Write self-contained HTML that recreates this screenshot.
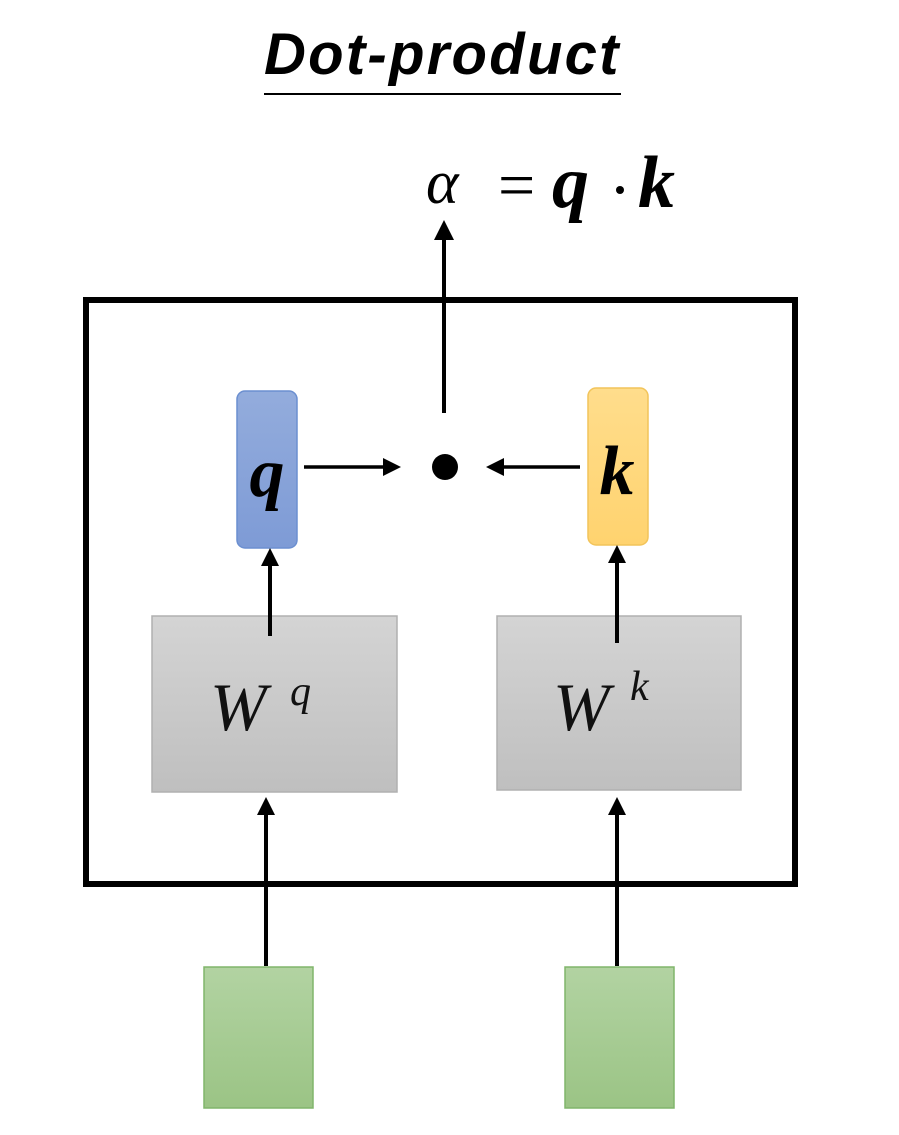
<!DOCTYPE html>
<html><head><meta charset="utf-8"><style>
html,body{margin:0;padding:0;background:#fff;width:899px;height:1135px;overflow:hidden}
</style></head><body>
<svg width="899" height="1135" viewBox="0 0 899 1135" xmlns="http://www.w3.org/2000/svg">
<defs>
<linearGradient id="g" x1="0" y1="0" x2="0" y2="1"><stop offset="0" stop-color="#d4d4d4"/><stop offset="1" stop-color="#bfbfbf"/></linearGradient>
<linearGradient id="gr" x1="0" y1="0" x2="0" y2="1"><stop offset="0" stop-color="#b2d3a2"/><stop offset="1" stop-color="#9bc485"/></linearGradient>
<linearGradient id="bl" x1="0" y1="0" x2="0" y2="1"><stop offset="0" stop-color="#93acdc"/><stop offset="1" stop-color="#7e9bd6"/></linearGradient>
<linearGradient id="ye" x1="0" y1="0" x2="0" y2="1"><stop offset="0" stop-color="#ffdd8c"/><stop offset="1" stop-color="#ffd36f"/></linearGradient>
</defs>
<text x="442" y="74" text-anchor="middle" font-family="Liberation Sans, sans-serif" font-weight="bold" font-style="italic" font-size="58" letter-spacing="1.5" textLength="356" fill="#000">Dot-product</text>
<line x1="264" y1="94" x2="621" y2="94" stroke="#000" stroke-width="2"/>
<text x="426" y="203" font-family="Liberation Serif, serif" font-style="italic" font-size="62">α</text>
<text x="498" y="207" font-family="Liberation Serif, serif" font-size="66">=</text>
<text x="552" y="207" font-family="Liberation Serif, serif" font-weight="bold" font-style="italic" font-size="74">q</text>
<circle cx="620" cy="190" r="4" fill="#000"/>
<text x="638" y="207" font-family="Liberation Serif, serif" font-weight="bold" font-style="italic" font-size="74">k</text>
<rect x="86" y="300" width="709" height="584" fill="none" stroke="#000" stroke-width="6"/>
<line x1="444" y1="413" x2="444" y2="236" stroke="#000" stroke-width="4"/>
<polygon points="444,220 434,240 454,240" fill="#000"/>
<circle cx="445" cy="467" r="13" fill="#000"/>
<rect x="237" y="391" width="60" height="157" rx="8" fill="url(#bl)" stroke="#6b8fd0" stroke-width="1.5"/>
<text x="267" y="496" text-anchor="middle" font-family="Liberation Serif, serif" font-weight="bold" font-style="italic" font-size="70">q</text>
<rect x="588" y="388" width="60" height="157" rx="8" fill="url(#ye)" stroke="#f2c45a" stroke-width="1.5"/>
<text x="617" y="494" text-anchor="middle" font-family="Liberation Serif, serif" font-weight="bold" font-style="italic" font-size="70">k</text>
<line x1="304" y1="467" x2="386" y2="467" stroke="#000" stroke-width="3.5"/>
<polygon points="401,467 383,458 383,476" fill="#000"/>
<line x1="580" y1="467" x2="500" y2="467" stroke="#000" stroke-width="3.5"/>
<polygon points="486,467 504,458 504,476" fill="#000"/>
<rect x="152" y="616" width="245" height="176" fill="url(#g)" stroke="#b0b0b0" stroke-width="1.5"/>
<rect x="497" y="616" width="244" height="174" fill="url(#g)" stroke="#b0b0b0" stroke-width="1.5"/>
<line x1="270" y1="636" x2="270" y2="562" stroke="#000" stroke-width="4"/>
<polygon points="270,548 261,566 279,566" fill="#000"/>
<line x1="617" y1="643" x2="617" y2="560" stroke="#000" stroke-width="4"/>
<polygon points="617,545 608,563 626,563" fill="#000"/>
<text x="210" y="730" font-family="Liberation Serif, serif" font-style="italic" font-size="68" fill="#111">W</text>
<text x="290" y="705" font-family="Liberation Serif, serif" font-style="italic" font-size="42" fill="#111">q</text>
<text x="553" y="730" font-family="Liberation Serif, serif" font-style="italic" font-size="68" fill="#111">W</text>
<text x="630" y="700" font-family="Liberation Serif, serif" font-style="italic" font-size="42" fill="#111">k</text>
<line x1="266" y1="966" x2="266" y2="812" stroke="#000" stroke-width="4"/>
<polygon points="266,797 257,815 275,815" fill="#000"/>
<line x1="617" y1="966" x2="617" y2="812" stroke="#000" stroke-width="4"/>
<polygon points="617,797 608,815 626,815" fill="#000"/>
<rect x="204" y="967" width="109" height="141" fill="url(#gr)" stroke="#80b56b" stroke-width="1.5"/>
<rect x="565" y="967" width="109" height="141" fill="url(#gr)" stroke="#80b56b" stroke-width="1.5"/>
</svg>
</body></html>
